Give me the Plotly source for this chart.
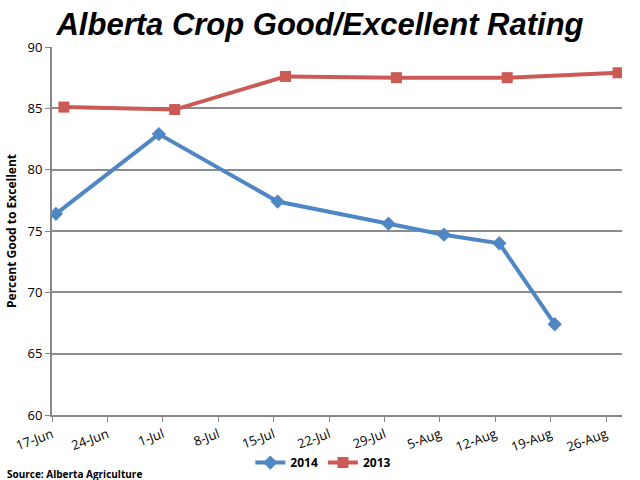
import pandas as pd
import plotly.graph_objects as go

# Data (dates mapped onto a common year for a shared axis)
dates_2014 = ["17-Jun", "30-Jun", "15-Jul", "29-Jul", "5-Aug", "12-Aug", "19-Aug"]
values_2014 = [76.4, 82.9, 77.4, 75.6, 74.7, 74.0, 67.4]
dates_2013 = ["18-Jun", "2-Jul", "16-Jul", "30-Jul", "13-Aug", "27-Aug"]
values_2013 = [85.1, 84.9, 87.6, 87.5, 87.5, 87.9]

def to_dt(labels):
    # Excel date axis places each point in the middle of its day
    return [pd.to_datetime(f"{d}-2014", format="%d-%b-%Y") + pd.Timedelta(hours=12) for d in labels]

BLUE = "#4F86C4"
RED = "#CC5A54"

fig = go.Figure()
fig.add_trace(go.Scatter(
    x=to_dt(dates_2014), y=values_2014, name="2014", mode="lines+markers",
    line=dict(color=BLUE, width=4),
    marker=dict(symbol="diamond", size=11, color=BLUE),
))
fig.add_trace(go.Scatter(
    x=to_dt(dates_2013), y=values_2013, name="2013", mode="lines+markers",
    line=dict(color=RED, width=4),
    marker=dict(symbol="square", size=11, color=RED),
))

fig.update_layout(
    width=640, height=480,
    paper_bgcolor="white", plot_bgcolor="white",
    margin=dict(l=52, r=18, t=47, b=65, autoexpand=False),
    title=dict(
        text="<b><i>Alberta Crop Good/Excellent Rating</i></b>",
        x=0.5, xanchor="center", y=0.972, yanchor="top",
        font=dict(family="Liberation Sans", size=31, color="black"),
    ),
    font=dict(family="Open Sans", color="black"),
    showlegend=True,
    legend=dict(
        orientation="h", x=0.476, xanchor="center", y=-0.09, yanchor="top",
        font=dict(size=12, family="Open Sans", color="black", weight="bold"),
        itemwidth=30, tracegroupgap=0,
    ),
    annotations=[dict(
        text="<b>Source: Alberta Agriculture</b>", xref="paper", yref="paper",
        x=-0.083, y=-0.136, xanchor="left", yanchor="top", showarrow=False,
        font=dict(size=10, family="Open Sans", color="black"),
    )],
)

fig.update_xaxes(
    type="date", automargin=False,
    range=["2014-06-17", "2014-08-28"],
    tick0="2014-06-17", dtick=7 * 24 * 3600 * 1000,
    tickformat="%-d-%b", tickangle=-20,
    ticks="outside", ticklen=5, tickcolor="#888888",
    showline=True, linecolor="#888888", linewidth=2,
    showgrid=False, zeroline=False,
    tickfont=dict(size=13, family="Open Sans", color="black"),
)
fig.update_yaxes(
    automargin=False,
    range=[60, 90], dtick=5,
    ticks="outside", ticklen=5, tickcolor="#888888",
    showline=True, linecolor="#888888", linewidth=2,
    showgrid=True, gridcolor="#8C8C8C", gridwidth=1.5,
    zeroline=False,
    tickfont=dict(size=13, family="Open Sans", color="black"),
    title=dict(text="<b>Percent Good to Excellent</b>", font=dict(size=12, family="Open Sans"), standoff=8),
)

fig.write_html("out.html", config={"displayModeBar": False},
               post_script="document.body.style.margin='0';")
